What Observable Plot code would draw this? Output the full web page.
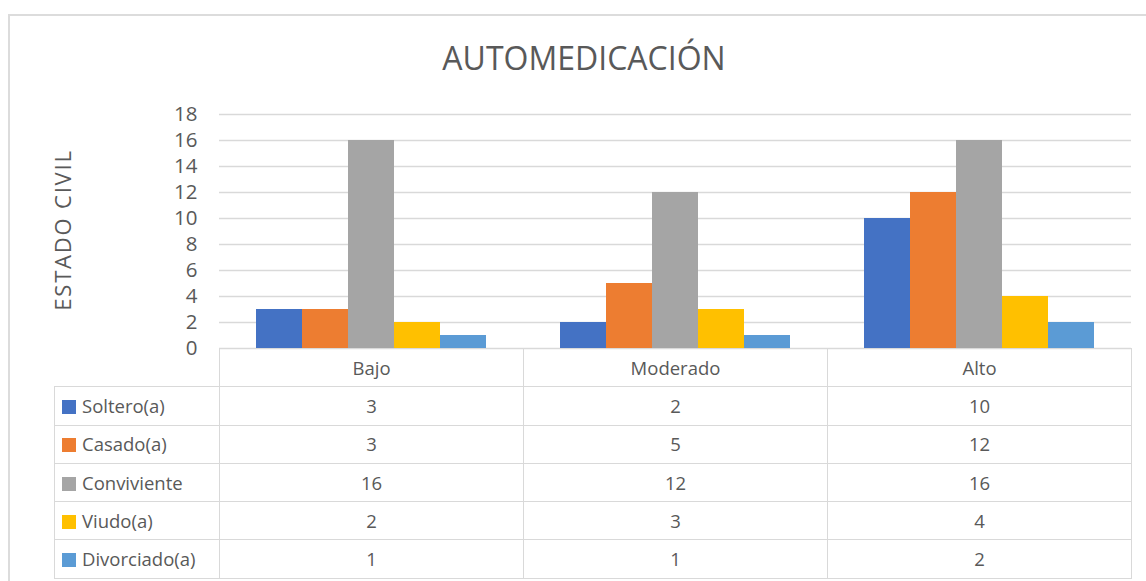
<!DOCTYPE html>
<html>
<head>
<meta charset="utf-8">
<script src="https://cdn.jsdelivr.net/npm/d3@7"></script>
<script src="https://cdn.jsdelivr.net/npm/@observablehq/plot@0.6"></script>
<style>
  html, body { margin: 0; padding: 0; background: #fff; }
  #wrap { position: relative; width: 1146px; height: 581px; overflow: hidden; font-family: "Open Sans", sans-serif; color: #595959; background: #fff; }
  #frame { position: absolute; left: 8px; top: 14px; width: 1300px; height: 700px; border: 2px solid #dcdcdc; box-sizing: border-box; }
  #title { position: absolute; left: 0; width: 1168px; top: 36px; text-align: center; font-size: 32px; line-height: 44px; }
  #ytitle { position: absolute; left: 62px; top: 230px; transform: translate(-50%, -50%) rotate(-90deg); font-size: 22px; letter-spacing: 1.8px; white-space: nowrap; line-height: 24px; }
  #chart { position: absolute; left: 0; top: 0; }
  table { position: absolute; left: 54px; top: 348px; border-collapse: collapse; font-size: 18.5px; }
  td { border: 1.5px solid #d9d9d9; height: 38.3px; padding: 0; box-sizing: border-box; text-align: center; line-height: 20px; }
  td.lab { text-align: left; padding-left: 7px; white-space: nowrap; }
  td.empty { border-top: none; border-left: none; }
  .sw { display: inline-block; width: 14px; height: 14px; margin-right: 6px; vertical-align: -1px; }
</style>
</head>
<body>
<div id="wrap">
  <div id="frame"></div>
  <div id="title"></div>
  <div id="ytitle"></div>
  <div id="chart"></div>
</div>
<script>
const titleText = "AUTOMEDICACIÓN";
const yTitle = "ESTADO CIVIL";
const categories = ["Bajo", "Moderado", "Alto"];
const seriesNames = ["Soltero(a)", "Casado(a)", "Conviviente", "Viudo(a)", "Divorciado(a)"];
const colors = ["#4472C4", "#ED7D31", "#A5A5A5", "#FFC000", "#5B9BD5"];
const soltero = [3, 2, 10];
const casado = [3, 5, 12];
const conviviente = [16, 12, 16];
const viudo = [2, 3, 4];
const divorciado = [1, 1, 2];
const yTicks = [0, 2, 4, 6, 8, 10, 12, 14, 16, 18];

const seriesValues = [soltero, casado, conviviente, viudo, divorciado];
const data = [];
seriesNames.forEach((s, i) => categories.forEach((c, j) => data.push({cat: c, series: s, value: seriesValues[i][j]})));

document.getElementById("title").textContent = titleText;
document.getElementById("ytitle").textContent = yTitle;

const chart = Plot.plot({
  width: 1146,
  height: 352,
  marginTop: 114,
  marginBottom: 4,
  marginLeft: 219,
  marginRight: 15,
  style: {fontFamily: "Open Sans", fontSize: "20.5px", color: "#595959", background: "transparent", overflow: "visible"},
  fx: {domain: categories, padding: 0, axis: null, label: null},
  x: {domain: seriesNames, paddingInner: 0, paddingOuter: 0.74, axis: null},
  y: {domain: [0, 18], ticks: yTicks, tickSize: 0, tickPadding: 22, label: null, tickFormat: d => String(d)},
  color: {domain: seriesNames, range: colors},
  marks: [
    Plot.ruleY(yTicks, {stroke: "#d9d9d9", strokeWidth: 1.5}),
    Plot.barY(data, {fx: "cat", x: "series", y: "value", fill: "series"})
  ]
});
document.getElementById("chart").appendChild(chart);

// data table
const table = d3.select("#wrap").append("table");
const colgroup = table.append("colgroup");
colgroup.append("col").style("width", "165px");
categories.forEach(() => colgroup.append("col").style("width", "304px"));
const head = table.append("tr");
head.append("td").attr("class", "empty");
categories.forEach(c => head.append("td").text(c));
seriesNames.forEach((s, i) => {
  const tr = table.append("tr");
  const lab = tr.append("td").attr("class", "lab");
  lab.append("span").attr("class", "sw").style("background", colors[i]);
  lab.append("span").text(s);
  seriesValues[i].forEach(v => tr.append("td").text(v));
});
</script>
</body>
</html>
